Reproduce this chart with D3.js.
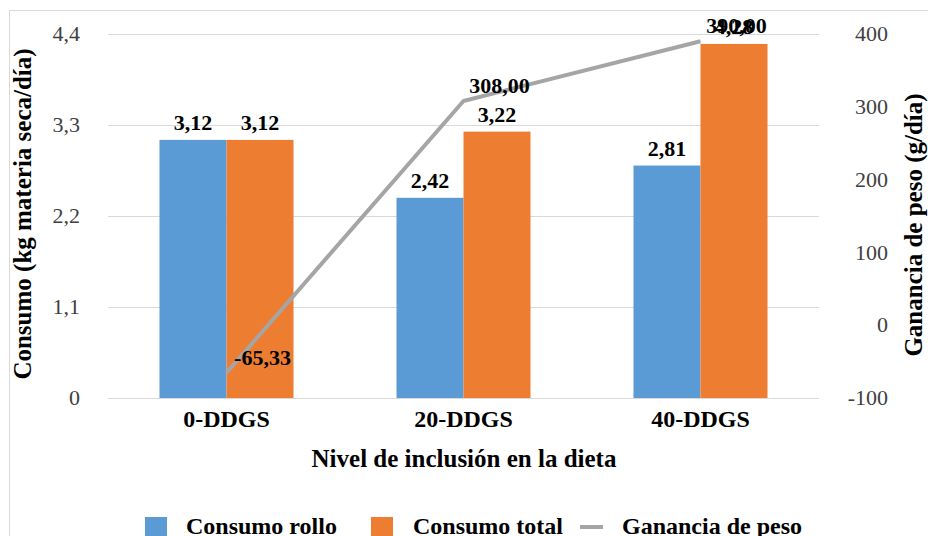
<!DOCTYPE html>
<html><head><meta charset="utf-8">
<script src="https://cdn.jsdelivr.net/npm/d3@7"></script>
<style>body{margin:0;background:#fff}svg{display:block}text{font-family:"Liberation Serif","Times New Roman",serif}</style>
</head><body><svg id="c" width="928" height="536"></svg>
<script>
const categories = ["0-DDGS","20-DDGS","40-DDGS"];
const consumoRollo = [3.12, 2.42, 2.81];
const consumoTotal = [3.12, 3.22, 4.28];
const ganancia = [-65.33, 308.00, 390.00];
const leftTicks = [0, 1.1, 2.2, 3.3, 4.4];
const rightTicks = [-100, 0, 100, 200, 300, 400];
const seriesNames = ["Consumo rollo","Consumo total","Ganancia de peso"];
const colors = {rollo:"#5B9BD5", total:"#ED7D31", line:"#A5A5A5"};

const svg = d3.select("#c");
const fmt = v => v.toFixed(2).replace(".", ",");
const M = {l:108, r:819, t:34, b:398};

svg.append("rect").attr("x",9.5).attr("y",10.5).attr("width",930).attr("height",540)
  .attr("fill","#fff").attr("stroke","#D9D9D9");

const x = d3.scaleBand().domain(categories).range([M.l, M.r]);
const yL = d3.scaleLinear().domain([0, 4.4]).range([M.b, M.t]);
const yR = d3.scaleLinear().domain([-100, 400]).range([M.b, M.t]);

// gridlines
svg.append("g").selectAll("line").data(leftTicks).join("line")
  .attr("x1", M.l).attr("x2", M.r)
  .attr("y1", d=>yL(d)+0.5).attr("y2", d=>yL(d)+0.5)
  .attr("stroke","#D9D9D9").attr("stroke-width",1);

// left axis
const gl = svg.append("g").attr("transform",`translate(${M.l},0)`)
  .call(d3.axisLeft(yL).tickValues(leftTicks).tickSize(0).tickPadding(28)
    .tickFormat(d => d===0 ? "0" : d3.format(".1f")(d).replace(".",",")));
gl.select(".domain").remove();
gl.selectAll("text").attr("font-size",22).attr("fill","#404040").attr("dy","0.3em");

// right axis
const gr = svg.append("g").attr("transform",`translate(${M.r},0)`)
  .call(d3.axisRight(yR).tickValues(rightTicks).tickSize(0).tickPadding(0).tickFormat(d => String(d)));
gr.select(".domain").remove();
gr.selectAll("text").attr("font-size",22).attr("fill","#404040").attr("dy","0.3em")
  .attr("text-anchor","end").attr("x",69);

// bars
const bw = 67;
const bars = svg.append("g");
bars.selectAll("rect.r").data(categories).join("rect").attr("class","r")
  .attr("x", d => x(d)+x.bandwidth()/2 - bw).attr("width", bw)
  .attr("y", (d,i)=>yL(consumoRollo[i])).attr("height",(d,i)=>yL(0)-yL(consumoRollo[i]))
  .attr("fill", colors.rollo);
bars.selectAll("rect.t").data(categories).join("rect").attr("class","t")
  .attr("x", d => x(d)+x.bandwidth()/2).attr("width", bw)
  .attr("y", (d,i)=>yL(consumoTotal[i])).attr("height",(d,i)=>yL(0)-yL(consumoTotal[i]))
  .attr("fill", colors.total);

// bar labels
const lab = svg.append("g").attr("font-size",22).attr("font-weight","bold").attr("fill","#000").attr("text-anchor","middle");
lab.selectAll("text.r").data(categories).join("text").attr("class","r")
  .attr("x", d => x(d)+x.bandwidth()/2 - bw/2).attr("y",(d,i)=>yL(consumoRollo[i])-10)
  .text((d,i)=>fmt(consumoRollo[i]));
lab.selectAll("text.t").data(categories).join("text").attr("class","t")
  .attr("x", d => x(d)+x.bandwidth()/2 + bw/2).attr("y",(d,i)=>yL(consumoTotal[i])-10)
  .text((d,i)=>fmt(consumoTotal[i]));

// line
const line = d3.line().x((d,i)=>x(categories[i])+x.bandwidth()/2).y(d=>yR(d));
svg.append("path").datum(ganancia).attr("d", line).attr("fill","none")
  .attr("stroke", colors.line).attr("stroke-width",4).attr("stroke-linejoin","round");
const lab2 = svg.append("g").attr("font-size",22).attr("font-weight","bold").attr("fill","#000").attr("text-anchor","middle");
lab2.selectAll("text").data(categories).join("text")
  .attr("x", d => x(d)+x.bandwidth()/2 + 36).attr("y",(d,i)=>yR(ganancia[i])-8)
  .text((d,i)=>fmt(ganancia[i]));

// category labels
svg.append("g").selectAll("text").data(categories).join("text")
  .attr("x", d=>x(d)+x.bandwidth()/2).attr("y", 427).attr("text-anchor","middle")
  .attr("font-size",24).attr("font-weight","bold").attr("fill","#000").text(d=>d);

// axis titles
svg.append("text").attr("x",464).attr("y",467).attr("text-anchor","middle")
  .attr("font-size",25).attr("font-weight","bold").text("Nivel de inclusión en la dieta");
svg.append("text").attr("transform","translate(31,214) rotate(-90)").attr("text-anchor","middle")
  .attr("font-size",25).attr("font-weight","bold").text("Consumo (kg materia seca/día)");
svg.append("text").attr("transform","translate(922,225) rotate(-90)").attr("text-anchor","middle")
  .attr("font-size",25).attr("font-weight","bold").text("Ganancia de peso (g/día)");

// legend
const lg = svg.append("g").attr("font-size",24).attr("font-weight","bold");
lg.append("rect").attr("x",145).attr("y",517).attr("width",22).attr("height",22).attr("fill",colors.rollo);
lg.append("text").attr("x",186).attr("y",534).text(seriesNames[0]);
lg.append("rect").attr("x",371).attr("y",517).attr("width",22).attr("height",22).attr("fill",colors.total);
lg.append("text").attr("x",413).attr("y",534).text(seriesNames[1]);
lg.append("line").attr("x1",580).attr("x2",603).attr("y1",527).attr("y2",527).attr("stroke",colors.line).attr("stroke-width",4);
lg.append("text").attr("x",622).attr("y",534).text(seriesNames[2]);
</script></body></html>
